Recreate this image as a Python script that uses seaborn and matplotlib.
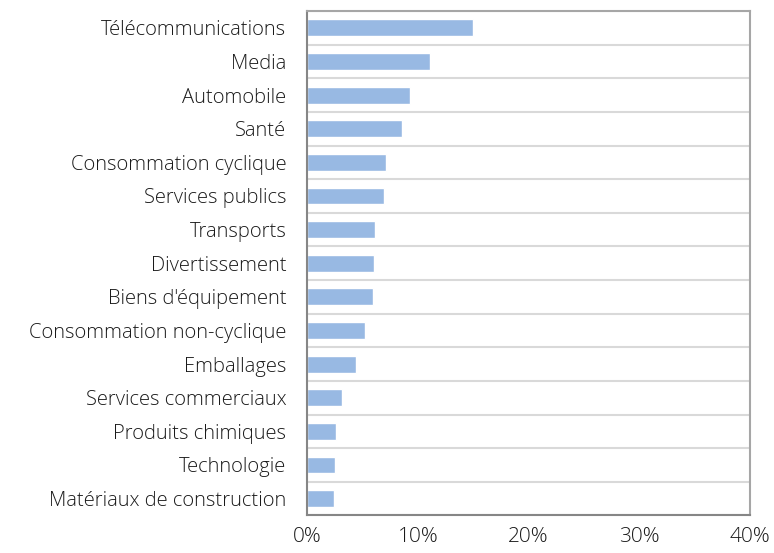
import numpy as np
import pandas as pd
import matplotlib.pyplot as plt
import matplotlib.ticker as mticker
import seaborn as sns

# Sector weights (%)
sectors = ["Télécommunications", "Media", "Automobile", "Santé",
           "Consommation cyclique", "Services publics", "Transports",
           "Divertissement", "Biens d'équipement", "Consommation non-cyclique",
           "Emballages", "Services commerciaux", "Produits chimiques",
           "Technologie", "Matériaux de construction"]
weights = [15.0, 11.1, 9.3, 8.6, 7.1, 6.9, 6.1, 6.0, 5.9, 5.2, 4.4, 3.1, 2.6, 2.5, 2.4]

df = pd.DataFrame({"secteur": sectors, "poids": weights})

sns.set_style("white")
plt.rcParams['font.family'] = ['Open Sans', 'DejaVu Sans']
plt.rcParams['font.weight'] = 'light'

fig, ax = plt.subplots(figsize=(7.74, 5.53), dpi=100)
sns.barplot(data=df, x="poids", y="secteur", orient="h", color="#98B9E3",
            width=0.5, saturation=1, ax=ax)

ax.set_xlim(0, 40)
ax.set_ylim(len(sectors) - 0.5, -0.5)
ax.xaxis.set_major_locator(mticker.MultipleLocator(10))
ax.xaxis.set_major_formatter(mticker.FuncFormatter(lambda v, p: f"{v:.0f}%"))

# gridlines between categories
ax.yaxis.set_minor_locator(mticker.FixedLocator(np.arange(-0.5, len(sectors), 1)))
ax.grid(which="minor", axis="y", color="#D9D9D9", linewidth=1.5)
ax.grid(which="major", visible=False)
ax.set_axisbelow(True)

ax.tick_params(axis="y", which="major", length=0, pad=15, labelsize=14.5, labelcolor="#1a1a1a")
ax.tick_params(axis="y", which="minor", length=5, width=1.5, color="#868686", direction="out")
ax.tick_params(axis="x", which="major", length=5, width=1.5, color="#868686",
               direction="out", labelsize=15, labelcolor="#1a1a1a", pad=3)

ax.set_xlabel("")
ax.set_ylabel("")
for side in ["left", "bottom"]:
    ax.spines[side].set_color("#868686")
    ax.spines[side].set_linewidth(1.5)
for side in ["top", "right"]:
    ax.spines[side].set_visible(True)
    ax.spines[side].set_color("#A6A6A6")
    ax.spines[side].set_linewidth(1.5)

fig.subplots_adjust(left=0.397, right=0.969, top=0.98, bottom=0.068)
fig.savefig("out.png", dpi=100, facecolor="white")
